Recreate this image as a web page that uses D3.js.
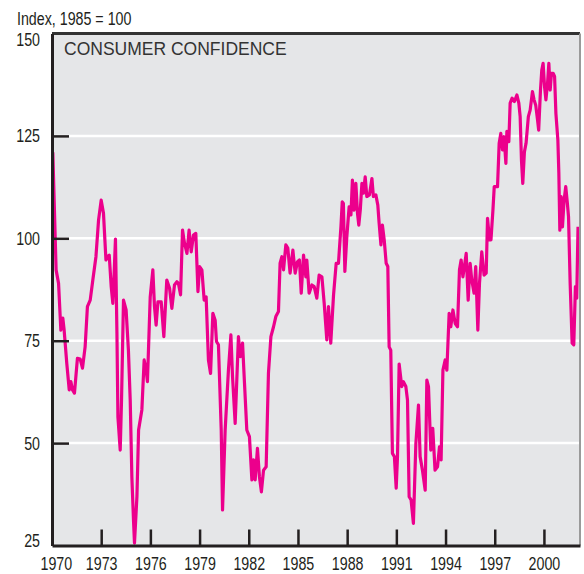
<!DOCTYPE html>
<html>
<head>
<meta charset="utf-8">
<script src="https://cdn.jsdelivr.net/npm/d3@7"></script>
<style>
  body { margin: 0; background: #fff; }
  svg { display: block; }
</style>
</head>
<body>
<div id="chart"></div>
<script>
// consumer confidence index, 1985 = 100
var years = [1970.05, 1970.25, 1970.4, 1970.54, 1970.66, 1970.74, 1970.9, 1971.05, 1971.15, 1971.25,
    1971.37, 1971.55, 1971.72, 1971.86, 1972.02, 1972.16, 1972.33, 1972.49, 1972.68, 1972.84,
    1973.0, 1973.14, 1973.29, 1973.39, 1973.49, 1973.61, 1973.71, 1973.79, 1973.87, 1973.96,
    1974.02, 1974.16, 1974.24, 1974.36, 1974.52, 1974.66, 1974.77, 1974.87, 1974.97, 1975.03,
    1975.18, 1975.28, 1975.48, 1975.62, 1975.74, 1975.82, 1975.99, 1976.15, 1976.25, 1976.35,
    1976.46, 1976.66, 1976.82, 1977.0, 1977.17, 1977.31, 1977.47, 1977.62, 1977.71, 1977.84,
    1977.96, 1978.08, 1978.23, 1978.36, 1978.49, 1978.63, 1978.77, 1978.9, 1979.0, 1979.14,
    1979.28, 1979.4, 1979.54, 1979.67, 1979.81, 1979.95, 1980.03, 1980.15, 1980.32, 1980.4,
    1980.56, 1980.76, 1980.91, 1981.01, 1981.17, 1981.37, 1981.48, 1981.62, 1981.74, 1981.88,
    1982.04, 1982.19, 1982.29, 1982.39, 1982.53, 1982.65, 1982.77, 1982.9, 1983.06, 1983.2,
    1983.35, 1983.51, 1983.65, 1983.81, 1983.91, 1984.02, 1984.12, 1984.26, 1984.38, 1984.52,
    1984.69, 1984.83, 1984.97, 1985.09, 1985.2, 1985.34, 1985.48, 1985.54, 1985.68, 1985.85,
    1985.99, 1986.15, 1986.29, 1986.46, 1986.6, 1986.76, 1986.86, 1987.0, 1987.17, 1987.33,
    1987.47, 1987.62, 1987.7, 1987.77, 1987.86, 1987.98, 1988.12, 1988.23, 1988.32, 1988.42,
    1988.53, 1988.63, 1988.71, 1988.8, 1988.9, 1988.99, 1989.1, 1989.2, 1989.36, 1989.51,
    1989.6, 1989.75, 1989.87, 1989.95, 1990.06, 1990.15, 1990.26, 1990.38, 1990.48, 1990.56,
    1990.66, 1990.76, 1990.88, 1990.99, 1991.07, 1991.17, 1991.33, 1991.43, 1991.58, 1991.68,
    1991.78, 1991.9, 1992.04, 1992.19, 1992.35, 1992.45, 1992.59, 1992.76, 1992.86, 1992.96,
    1993.1, 1993.22, 1993.36, 1993.51, 1993.63, 1993.73, 1993.84, 1993.98, 1994.08, 1994.22,
    1994.32, 1994.45, 1994.59, 1994.73, 1994.85, 1994.95, 1995.06, 1995.15, 1995.26, 1995.38,
    1995.5, 1995.6, 1995.74, 1995.84, 1995.97, 1996.07, 1996.21, 1996.35, 1996.48, 1996.56,
    1996.68, 1996.77, 1996.89, 1996.97, 1997.17, 1997.27, 1997.37, 1997.47, 1997.57, 1997.68,
    1997.74, 1997.86, 1997.94, 1998.06, 1998.2, 1998.35, 1998.47, 1998.55, 1998.63, 1998.71,
    1998.81, 1998.91, 1999.05, 1999.16, 1999.3, 1999.4, 1999.5, 1999.61, 1999.68, 1999.79,
    1999.87, 1999.95, 2000.04, 2000.12, 2000.22, 2000.3, 2000.38, 2000.46, 2000.56, 2000.65,
    2000.73, 2000.85, 2000.91, 2000.97, 2001.05, 2001.13, 2001.23, 2001.33, 2001.43, 2001.5,
    2001.6, 2001.72, 2001.82, 2001.92, 2002.0, 2002.08];

var index = [121, 92.3, 89, 77.6, 80.5, 77.6, 69.5, 63, 65, 63,
    62.2, 70.7, 70.5, 68.3, 73.5, 83.3, 84.9, 89.8, 95.5, 104.5,
    109.3, 106.1, 94.7, 95.5, 95.9, 88.2, 84.1, 91.5, 99.8, 76.9,
    56.4, 48.3, 60.5, 84.9, 82.5, 72.7, 60.5, 41.8, 31.2, 25.6,
    37, 53.2, 58.1, 70.3, 67.8, 65, 85.7, 92.3, 83.3, 78.8,
    84.5, 84.5, 76, 89.8, 87.8, 82.9, 88.6, 89.4, 89, 86.2,
    102, 98.8, 96.3, 102, 96.7, 100.8, 101.2, 87, 93.1, 92.3,
    84.9, 85.7, 70.3, 67, 81.7, 80, 74.8, 74, 53.2, 33.7,
    53.2, 67.8, 76.4, 66.2, 54.8, 76, 71.1, 74.4, 64.6, 53.2,
    51.6, 41, 45.9, 41, 48.7, 41.8, 38.1, 43.4, 44.2, 67,
    76, 78.4, 80.9, 82.1, 93.9, 95.5, 92.3, 98.4, 97.6, 91.5,
    97.1, 91.5, 94.3, 94.7, 86.6, 95.9, 90.6, 94.7, 86.6, 88.6,
    88.2, 85.4, 91, 90.6, 84.1, 75.2, 83.3, 74.4, 86.2, 93.9,
    93.9, 102.8, 108.9, 108.5, 91.9, 100.4, 107.7, 105.7, 114.2, 106.9,
    113.4, 106.1, 103.2, 106.9, 113.4, 111, 115, 110.2, 110.6, 114.6,
    110.2, 110.6, 108.1, 103.7, 98.4, 103.2, 99.6, 93.9, 93.1, 73.5,
    72.7, 47.5, 46.7, 39, 46.7, 69.3, 63.8, 65, 63.8, 60.5,
    36.9, 36.1, 30.4, 49.9, 59.3, 46.7, 43.4, 38.5, 65.4, 63.8,
    48.3, 53.6, 43.4, 44.2, 49.1, 45.9, 67.8, 70.3, 67.8, 81.7,
    78.4, 82.5, 79.2, 78.4, 92.3, 94.7, 90.6, 93.1, 96.3, 84.9,
    93.9, 89.8, 86.6, 93.1, 77.6, 89, 96.7, 91, 91.5, 104.9,
    99.6, 99.6, 106.9, 112.6, 112.6, 123.2, 125.6, 121.6, 124.8, 118.3,
    126.1, 123.6, 133, 134.2, 133.4, 135, 133, 129.7, 119.1, 113.4,
    121.1, 123.2, 129.7, 131.3, 135.8, 133.8, 132.5, 128.9, 126.4, 136.2,
    141.1, 142.7, 137, 133.8, 137.8, 142.7, 136.2, 140.3, 140.3, 139.5,
    130.5, 124, 115.9, 102, 110.2, 102.8, 109.3, 112.6, 108.5, 105.3,
    89, 74.4, 74, 88.2, 85.4, 102.8];

var x_ticks = [1970, 1973, 1976, 1979, 1982, 1985, 1988, 1991, 1994, 1997, 2000];
var y_ticks = [25, 50, 75, 100, 125, 150];
var grid_values = [50, 75, 100, 125];

var data = years.map((d, i) => ({ year: d, value: index[i] }));

var margin = { top: 33.5, right: 4, bottom: 28.5, left: 52 },
    width = 584 - margin.left - margin.right,
    height = 574 - margin.top - margin.bottom;

// labels are a condensed grotesque: squeeze Liberation Sans sideways
var narrow = 0.77;
var label_font = 'Liberation Sans, Arial, Helvetica, sans-serif';

var svg = d3.select('#chart').append('svg')
    .attr('width', 584)
    .attr('height', 574)
    .append('g')
    .attr('transform', `translate(${margin.left},${margin.top})`);

var x = d3.scaleLinear()
    .domain([1970, 2002.2])
    .range([0, width]);

var y = d3.scaleLinear()
    .domain([25, 150])
    .range([height, 0]);

// plot background
svg.append('rect')
    .attr('width', width)
    .attr('height', height)
    .attr('fill', '#e5e6e8');

// white gridlines
svg.selectAll('.grid')
    .data(grid_values)
    .enter()
    .append('line')
    .attr('class', 'grid')
    .attr('x1', 0)
    .attr('x2', width)
    .attr('y1', d => y(d))
    .attr('y2', d => y(d))
    .attr('stroke', '#fff')
    .attr('stroke-width', 2.5);

svg.append('text')
    .attr('x', 12)
    .attr('y', 21.5)
    .attr('font-family', label_font)
    .attr('font-size', 17.5)
    .attr('fill', '#333')
    .text('CONSUMER CONFIDENCE');

var line = d3.line()
    .x(d => x(d.year))
    .y(d => y(d.value));

svg.append('path')
    .datum(data)
    .attr('d', line)
    .attr('fill', 'none')
    .attr('stroke', '#ec008c')
    .attr('stroke-width', 3.2)
    .attr('stroke-linejoin', 'round');

// frame: dark top, light right
svg.append('line')
    .attr('x1', 0).attr('x2', width)
    .attr('y1', 0).attr('y2', 0)
    .attr('stroke', '#333').attr('stroke-width', 3);
svg.append('line')
    .attr('x1', width).attr('x2', width)
    .attr('y1', 0).attr('y2', height)
    .attr('stroke', '#9a9a9a').attr('stroke-width', 2);

var x_axis = svg.append('g')
    .attr('class', 'axis')
    .attr('transform', `translate(0,${height})`)
    .call(d3.axisBottom(x).tickValues(x_ticks).tickFormat(d3.format('d')).tickSizeInner(-16).tickSizeOuter(0).tickPadding(11));

var y_axis = svg.append('g')
    .attr('class', 'axis')
    .call(d3.axisLeft(y).tickValues(y_ticks).tickSizeInner(-17).tickSizeOuter(0).tickPadding(12));

svg.selectAll('.axis path')
    .attr('stroke', '#231f20')
    .attr('stroke-width', 3);
svg.selectAll('.axis line')
    .attr('stroke', '#231f20')
    .attr('stroke-width', 2.5);
svg.selectAll('.axis text')
    .attr('font-family', label_font)
    .attr('font-size', 18.5)
    .attr('fill', '#231f20')
    .attr('transform', `scale(${narrow},1)`);

y_axis.selectAll('.tick text').attr('x', -12 / narrow);

// first/last labels nudged inside like the original
x_axis.selectAll('.tick').filter(d => d == 1970).select('text').attr('dx', 5);
x_axis.selectAll('.tick').filter(d => d == 1970).select('line').remove();
y_axis.selectAll('.tick').filter(d => d == 150).select('text').attr('y', 6);
y_axis.selectAll('.tick').filter(d => d == 25).select('text').attr('y', -5);
y_axis.selectAll('.tick').filter(d => d == 25 || d == 150).select('line').remove();

d3.select('svg').append('text')
    .attr('transform', `translate(17,25) scale(${narrow},1)`)
    .attr('font-family', label_font)
    .attr('font-size', 18.5)
    .attr('fill', '#231f20')
    .text('Index, 1985 = 100');
</script>
</body>
</html>
